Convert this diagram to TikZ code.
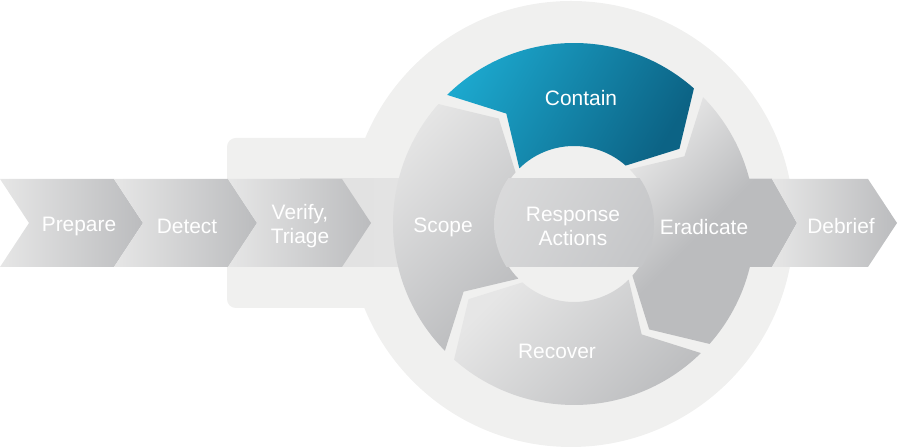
\documentclass[tikz,border=0pt]{standalone}
\usepackage{fontspec}
\setmainfont{Liberation Sans}
\definecolor{fondo}{HTML}{F0F0EF}
\definecolor{banda}{HTML}{E2E2E2}
\definecolor{grisclaro}{HTML}{E6E6E6}
\definecolor{grismedio}{HTML}{C3C4C6}
\definecolor{grisoscuro}{HTML}{BBBCBE}
\definecolor{azulclaro}{HTML}{1CA8CE}
\definecolor{azulmedio}{HTML}{18A0C6}
\definecolor{azuloscuro}{HTML}{0C6385}
\definecolor{centro}{HTML}{C5C6C8}
\begin{document}
\begin{tikzpicture}[x=0.02cm, y=0.02cm,
    etiqueta/.style={text=white, font=\fontsize{11.9}{13.6}\selectfont, align=center},
    flecha/.style={left color=grisclaro, middle color=grismedio, right color=grisoscuro},
    gajo/.style={top color=grisclaro, middle color=grismedio, bottom color=grisoscuro, shading angle=45}]
    \useasboundingbox (0,0) rectangle (900,448);

    % Fondo
    \fill[fondo, rounded corners=5pt] (227,140) rectangle (520,310);
    \fill[fondo] (571,224) circle (223);

    % Banda central
    \shade[left color=banda, right color=grisclaro!80!banda] (300,181) rectangle (772,269);

    % Flechas de entrada
    \shade[flecha] (0,269) -- (114,269) -- (143,225) -- (114,181) -- (0,181) -- (29,225) -- cycle;
    \shade[flecha] (114,269) -- (228,269) -- (257,225) -- (228,181) -- (114,181) -- (143,225) -- cycle;
    \shade[flecha] (228,269) -- (342,269) -- (371,225) -- (342,181) -- (228,181) -- (257,225) -- cycle;

    % Anillo
    \begin{scope}[shift={(574,224)}]
        % Scope y Recover
        \foreach \c in {181.5,-88.5}
            \shade[gajo]
                ({\c+43}:181) arc[start angle={\c+43}, end angle={\c-43}, radius=181]
                -- ({\c-56}:129.5) -- ({\c-43}:78)
                arc[start angle={\c-43}, end angle={\c+43}, radius=78]
                -- ({\c+30}:129.5) -- cycle;
        % Contain
        \shade[top color=azulclaro, middle color=azulmedio, bottom color=azuloscuro, shading angle=60]
            (134.5:181) arc[start angle=134.5, end angle=48.5, radius=181]
            -- (35.5:129.5) -- (48.5:78)
            arc[start angle=48.5, end angle=134.5, radius=78]
            -- (121.5:129.5) -- cycle;
        % Eradicate con su salida
        \shade[gajo, middle color=grisoscuro]
            (44.5:181) arc[start angle=44.5, end angle=-41.5, radius=181]
            -- (-54.5:129.5) -- (-41.5:78)
            arc[start angle=-41.5, end angle=44.5, radius=78]
            -- (31.5:129.5) -- cycle
            (126,45) -- (198,45) -- (223,1) -- (198,-43) -- (126,-43) -- cycle;
    \end{scope}

    % Centro
    \begin{scope}
        \clip (574,224) circle (80);
        \shade[left color=grisclaro!60!centro, right color=centro, shading angle=60] (480,181) rectangle (670,269);
    \end{scope}

    % Flecha final
    \shade[flecha] (772,269) -- (868,269) -- (897,225) -- (868,181) -- (772,181) -- (797,225) -- cycle;

    % Etiquetas
    \node[etiqueta] (prepare) at (79,222) {Prepare};
    \node[etiqueta] (detect) at (187,222) {Detect};
    \node[etiqueta] (verify) at (300,222) {Verify,\\Triage};
    \node[etiqueta] (scope) at (443,221) {Scope};
    \node[etiqueta] (hub) at (573,222) {Response\\Actions};
    \node[etiqueta] (eradicate) at (704,221) {Eradicate};
    \node[etiqueta] (debrief) at (841,222) {Debrief};
    \node[etiqueta] (contain) at (581,350) {Contain};
    \node[etiqueta] (recover) at (557,97) {Recover};
\end{tikzpicture}
\end{document}
